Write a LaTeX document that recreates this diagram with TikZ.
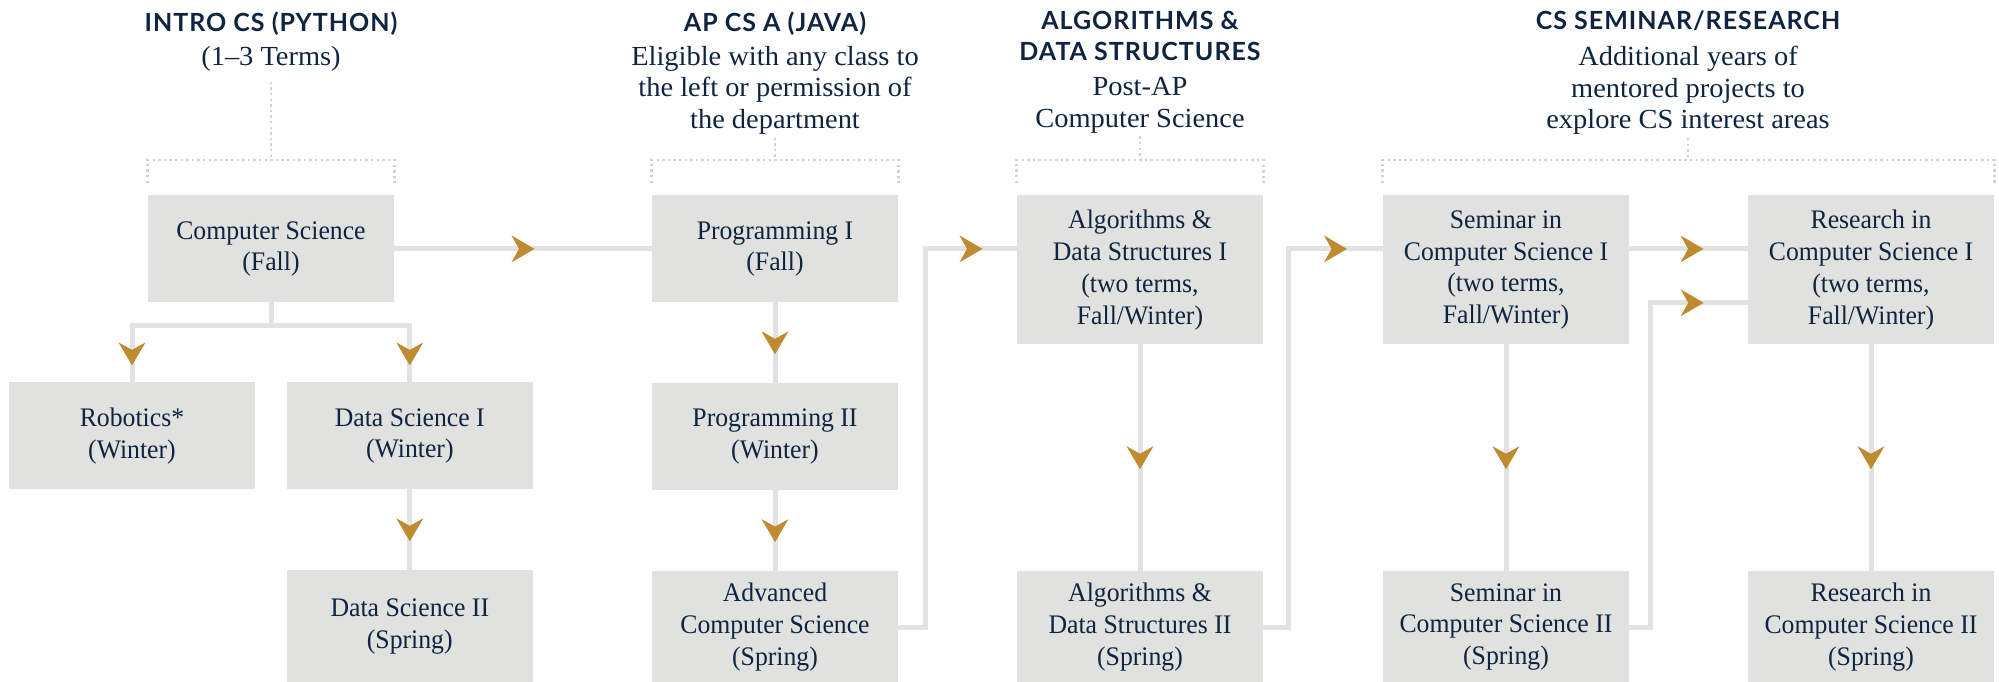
\documentclass[tikz,border=0pt]{standalone}
\usepackage{fontspec}
\setmainfont{Liberation Serif}
\newfontfamily\headfont{Lato}[LetterSpace=4]
\newfontfamily\boxfont{Liberation Serif}[FakeStretch=0.96]
\newfontfamily\notefont{Liberation Serif}[FakeStretch=1.03]
\usepackage{xcolor}
\usetikzlibrary{arrows.meta, positioning, calc, decorations.markings}

\definecolor{navy}{HTML}{0E2441}
\definecolor{boxgray}{HTML}{E1E1DF}
\definecolor{linkgray}{HTML}{E2E2E2}
\definecolor{gold}{HTML}{BF8B2E}
\definecolor{dotgray}{HTML}{D2D2D2}

\begin{document}
\begin{tikzpicture}[
    x=0.5pt, y=-0.5pt,
    every node/.style={text=navy, inner sep=0pt},
    course/.style={rectangle, fill=boxgray, minimum width=123pt, minimum height=53.5pt, align=center, font=\boxfont\fontsize{13.4}{15.9}\selectfont},
    longcourse/.style={course, minimum height=74.5pt},
    lastcourse/.style={course, minimum height=56pt},
    heading/.style={font=\headfont\bfseries\fontsize{12.5}{15.5}\selectfont, align=center},
    subheading/.style={font=\notefont\fontsize{13.8}{15.7}\selectfont, align=center},
    link/.style={draw=linkgray, line width=2.5pt, line cap=rect},
    flow/.style={link, postaction={decorate}, decoration={markings, mark=at position #1 with {\fill[gold] (5.75pt,0pt) -- (-5.75pt,6.75pt) -- (-2pt,0pt) -- (-5.75pt,-6.75pt) -- cycle;}}},
    flow/.default=0.5,
    bracket/.style={draw=dotgray, line width=1.2pt, dash pattern=on 1.2pt off 1.6pt}
]
\useasboundingbox (0,0) rectangle (1999,681);

% Column headings
\node[heading, anchor=north] (introhead) at (271,11) {INTRO CS (PYTHON)};
\node[subheading, anchor=north] (introsub) at (271,46) {(1–3 Terms)};
\node[heading, anchor=north] (aphead) at (775,11) {AP CS A (JAVA)};
\node[subheading, anchor=north] (apsub) at (775,46) {Eligible with any class to\\the left or permission of\\the department};
\node[heading, anchor=north] (adshead) at (1140,11) {ALGORITHMS \&\\DATA STRUCTURES};
\node[subheading, anchor=north] (adssub) at (1140,77) {Post-AP\\Computer Science};
\node[heading, anchor=north] (semhead) at (1688,11) {CS SEMINAR/RESEARCH};
\node[subheading, anchor=north] (semsub) at (1688,46) {Additional years of\\mentored projects to\\explore CS interest areas};

% Top row (Fall)
\node[course, anchor=north] (cs) at (271,195) {Computer Science\\(Fall)};
\node[course, anchor=north] (prog1) at (775,195) {Programming I\\(Fall)};
\node[longcourse, anchor=north] (ads1) at (1140,195) {Algorithms \&\\Data Structures I\\(two terms,\\Fall/Winter)};
\node[longcourse, anchor=north] (sem1) at (1506,195) {Seminar in\\Computer Science I\\(two terms,\\Fall/Winter)};
\node[longcourse, anchor=north] (res1) at (1871,195) {Research in\\Computer Science I\\(two terms,\\Fall/Winter)};

% Winter row
\node[course, anchor=north] (robot) at (132,382) {Robotics*\\(Winter)};
\node[course, right=15.5pt of robot] (ds1) {Data Science I\\(Winter)};
\node[course, below=40pt of prog1] (prog2) {Programming II\\(Winter)};

% Spring row (runs off the bottom edge)
\node[lastcourse, below=40pt of ds1] (ds2) {Data Science II\\(Spring)};
\node[lastcourse, below=40pt of prog2] (adv) {Advanced\\Computer Science\\(Spring)};
\node[lastcourse, anchor=north] (ads2) at (ads1 |- adv.north) {Algorithms \&\\Data Structures II\\(Spring)};
\node[lastcourse, anchor=north] (sem2) at (sem1 |- adv.north) {Seminar in\\Computer Science II\\(Spring)};
\node[lastcourse, anchor=north] (res2) at (res1 |- adv.north) {Research in\\Computer Science II\\(Spring)};

% Dotted brackets over the columns
\draw[bracket] ([yshift=-5pt]introsub.south) -- ($(cs.north)+(0,-35)$);
\draw[bracket] ($(cs.north west)+(0,-12)$) -- ++(0,-23) -| ($(cs.north east)+(0,-12)$);
\draw[bracket] ([yshift=-1.5pt]apsub.south) -- ($(prog1.north)+(0,-35)$);
\draw[bracket] ($(prog1.north west)+(0,-12)$) -- ++(0,-23) -| ($(prog1.north east)+(0,-12)$);
\draw[bracket] ([yshift=-1.5pt]adssub.south) -- ($(ads1.north)+(0,-35)$);
\draw[bracket] ($(ads1.north west)+(0,-12)$) -- ++(0,-23) -| ($(ads1.north east)+(0,-12)$);
\draw[bracket] ([yshift=-1.5pt]semsub.south) -- ($(semsub.south |- sem1.north)+(0,-35)$);
\draw[bracket] ($(sem1.north west)+(0,-12)$) -- ++(0,-23) -| ($(res1.north east)+(0,-12)$);

% Intro CS
\draw[flow] (cs) -- (prog1);
\draw[link] (cs.south) -- ++(0,23) coordinate (split);
\draw[link] (split -| robot) -- (split -| ds1);
\draw[flow] (split -| robot) -- (robot);
\draw[flow] (split -| ds1) -- (ds1);
\draw[flow] (ds1) -- (ds2);

% AP CS A
\draw[flow] (prog1) -- (prog2);
\draw[flow] (prog2) -- (adv);
\draw[link] (adv.east) -- ++(27,0) coordinate (turnA) -- (turnA |- prog1);
\draw[flow] (turnA |- prog1) -- (ads1.west |- prog1);

% Algorithms
\draw[flow] (ads1) -- (ads2);
\draw[link] (ads2.east) -- ++(25,0) coordinate (turnB) -- (turnB |- prog1);
\draw[flow] (turnB |- prog1) -- (sem1.west |- prog1);

% Seminar / Research
\draw[flow=0.53] (sem1.east |- prog1) -- (res1.west |- prog1);
\draw[flow] (sem1) -- (sem2);
\draw[flow] (res1) -- (res2);
\draw[link] (sem2.east) -- ++(21,0) coordinate (turnC) -- (turnC |- cs.south);
\draw[flow=0.43] (turnC |- cs.south) -- (res1.west |- cs.south);

\end{tikzpicture}
\end{document}
